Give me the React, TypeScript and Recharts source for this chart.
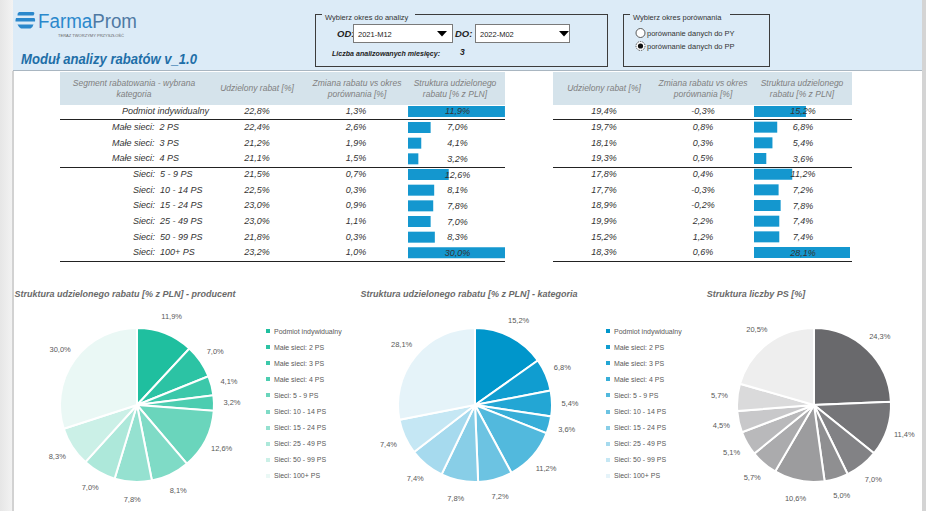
import React from 'react';
import { PieChart, Pie, Cell, Legend, BarChart, Bar, XAxis, YAxis, LabelList } from 'recharts';

// segment labels as shown in the table and in the pie legends
const segments = [
  'Podmiot indywidualny',
  'Małe sieci:  2 PS',
  'Małe sieci:  3 PS',
  'Małe sieci:  4 PS',
  'Sieci:  5 - 9 PS',
  'Sieci:  10 - 14 PS',
  'Sieci:  15 - 24 PS',
  'Sieci:  25 - 49 PS',
  'Sieci:  50 - 99 PS',
  'Sieci:  100+ PS',
];
const legendNames = [
  'Podmiot indywidualny',
  'Małe sieci: 2 PS',
  'Małe sieci: 3 PS',
  'Małe sieci: 4 PS',
  'Sieci: 5 - 9 PS',
  'Sieci: 10 - 14 PS',
  'Sieci: 15 - 24 PS',
  'Sieci: 25 - 49 PS',
  'Sieci: 50 - 99 PS',
  'Sieci: 100+ PS',
];

// producent table
const producerRabat = [22.8, 22.4, 21.2, 21.1, 21.5, 22.5, 23.0, 23.0, 21.8, 23.2];
const producerChange = [1.3, 2.6, 1.9, 1.5, 0.7, 0.3, 0.9, 1.1, 0.3, 1.0];
const producerShare = [11.9, 7.0, 4.1, 3.2, 12.6, 8.1, 7.8, 7.0, 8.3, 30.0];

// kategoria table
const categoryRabat = [19.4, 19.7, 18.1, 19.3, 17.8, 17.7, 18.9, 19.9, 15.2, 18.3];
const categoryChange = [-0.3, 0.8, 0.3, 0.5, 0.4, -0.3, -0.2, 2.2, 1.2, 0.6];
const categoryShare = [15.2, 6.8, 5.4, 3.6, 11.2, 7.2, 7.8, 7.4, 7.4, 28.1];

// liczba PS
const psShare = [24.3, 11.4, 7.0, 5.0, 10.6, 5.7, 5.1, 4.5, 5.7, 20.5];

const TEAL = ['#1fbf9f', '#2cc3a4', '#3cc8aa', '#4ccdb0', '#6ad5bc', '#7fdbc6', '#95e1d0', '#ade8da', '#cbf0e7', '#eaf8f5'];
const BLUE = ['#0096cb', '#109dd0', '#23a6d4', '#37aed8', '#52b9dd', '#6cc3e2', '#88cee7', '#a6daee', '#c5e7f4', '#e5f3f9'];
const GRAY = ['#69696c', '#757578', '#828285', '#8f8f91', '#9c9c9e', '#ababad', '#b9b9bb', '#c8c8ca', '#dadadb', '#eeeeee'];

const FONT = '"Liberation Sans", Arial, sans-serif';
const BAR_BLUE = '#1497cf';
const ROW_TOP = 104.3;
const ROW_H = 15.67;
const RAD = Math.PI / 180;

const pct = (v: number) => v.toFixed(1).replace('.', ',') + '%';

function Header() {
  const bg = '#dcebf7';
  return (
    <svg width={926} height={72} style={{ position: 'absolute', left: 0, top: 0 }}>
      <rect x={13} y={0} width={909} height={71} fill={bg} />
      <line x1={13} y1={70.5} x2={922} y2={70.5} stroke="#a9b6c1" />
      {/* logo */}
      <g fill="#2b88cc">
        <path d="M19 12 H33 Q35 12 34 14.5 L33.5 15.5 H17.5 Q17 13 19 12 Z" />
        <path d="M16 18 H34.5 Q35.5 19.5 35 21.5 H15.5 Q15.3 19.5 16 18 Z" />
        <path d="M17.5 24.5 H33.5 Q33 27 30.5 28.5 H21 Q18.5 27 17.5 24.5 Z" />
      </g>
      <text x={38} y={28} fontSize={20} fontFamily={FONT} textLength={99} lengthAdjust="spacingAndGlyphs">
        <tspan fill="#2b88cc">Farma</tspan>
        <tspan fill="#4f79a3">Prom</tspan>
      </text>
      <text x={58} y={36.5} fontSize={3.8} fill="#666" fontFamily={FONT} textLength={66} lengthAdjust="spacingAndGlyphs">
        TERAZ TWORZYMY PRZYSZŁOŚĆ
      </text>
      <text x={21} y={64} fontSize={15} fontWeight="bold" fontStyle="italic" fill="#1f6fa8" fontFamily={FONT} textLength={176} lengthAdjust="spacingAndGlyphs">
        Moduł analizy rabatów v_1.0
      </text>

      {/* period box */}
      <rect x={315.5} y={14.5} width={292} height={52} fill="none" stroke="#3c3c3c" />
      <rect x={322} y={11} width={93} height={8} fill={bg} />
      <text x={325} y={19.5} fontSize={7.5} fill="#333" fontFamily={FONT}>Wybierz okres do analizy</text>
      <text x={337} y={37} fontSize={9.5} fontWeight="bold" fontStyle="italic" fill="#222" fontFamily={FONT}>OD:</text>
      <rect x={353.5} y={24.5} width={99} height={18} fill="#fff" stroke="#7a7a7a" />
      <text x={358} y={36.5} fontSize={7.5} fill="#222" fontFamily={FONT}>2021-M12</text>
      <polygon points="437,31 447,31 442,36.5" fill="#000" />
      <text x={455} y={37} fontSize={9.5} fontWeight="bold" fontStyle="italic" fill="#222" fontFamily={FONT}>DO:</text>
      <rect x={475.5} y={24.5} width={94} height={18} fill="#fff" stroke="#7a7a7a" />
      <text x={480} y={36.5} fontSize={7.5} fill="#222" fontFamily={FONT}>2022-M02</text>
      <polygon points="559,31 569,31 564,36.5" fill="#000" />
      <text x={332} y={56} fontSize={8} fontWeight="bold" fontStyle="italic" fill="#222" fontFamily={FONT} textLength={108} lengthAdjust="spacingAndGlyphs">
        Liczba analizowanych miesięcy:
      </text>
      <text x={460} y={55} fontSize={8.5} fontWeight="bold" fontStyle="italic" fill="#222" fontFamily={FONT}>3</text>

      {/* comparison box */}
      <rect x={623.5} y={14.5} width={146} height={52} fill="none" stroke="#3c3c3c" />
      <rect x={630} y={11} width={100} height={8} fill={bg} />
      <text x={633} y={19.5} fontSize={7.5} fill="#333" fontFamily={FONT}>Wybierz okres porównania</text>
      <circle cx={640.5} cy={33} r={4.5} fill="#fff" stroke="#333" strokeWidth={0.8} />
      <text x={647} y={35.5} fontSize={7.5} fill="#333" fontFamily={FONT}>porównanie danych do PY</text>
      <circle cx={640.5} cy={46} r={4.5} fill="#fff" stroke="#333" strokeWidth={0.8} strokeDasharray="1.5 1" />
      <circle cx={640.5} cy={46} r={2.6} fill="#111" />
      <text x={647} y={48.5} fontSize={7.5} fill="#333" fontFamily={FONT}>porównanie danych do PP</text>
    </svg>
  );
}

const cell = (text: string, x: number, i: number, align: 'left' | 'center' = 'center') => (
  <div
    key={`${x}-${i}`}
    style={{
      position: 'absolute',
      left: align === 'center' ? x - 40 : x,
      width: align === 'center' ? 80 : 'auto',
      top: ROW_TOP + i * ROW_H,
      height: ROW_H,
      lineHeight: `${ROW_H}px`,
      textAlign: align,
      whiteSpace: 'pre',
      fontSize: 9,
      fontStyle: 'italic',
      color: '#333',
    }}
  >
    {text}
  </div>
);

const headCell = (lines: string[], x: number) => (
  <div
    key={`h-${x}`}
    style={{
      position: 'absolute',
      left: x - 80,
      width: 160,
      top: 72,
      height: 33,
      display: 'flex',
      flexDirection: 'column',
      justifyContent: 'center',
      textAlign: 'center',
      fontSize: 8.5,
      lineHeight: '11px',
      fontStyle: 'italic',
      color: '#808080',
      whiteSpace: 'nowrap',
    }}
  >
    {lines.map((l) => (
      <div key={l}>{l}</div>
    ))}
  </div>
);

const hLine = (x1: number, x2: number, y: number, k: string) => (
  <div key={k} style={{ position: 'absolute', left: x1, top: y, width: x2 - x1, height: 1, background: '#222' }} />
);

function ShareBars({ values, names, top, left, width }: { values: number[]; names: string[]; top: number; left: number; width: number }) {
  const data = values.map((v, i) => ({ name: names[i], value: v }));
  return (
    <div style={{ position: 'absolute', left, top }}>
      <BarChart width={width} height={ROW_H * values.length} data={data} layout="vertical" margin={{ top: 0, right: 0, bottom: 0, left: 0 }}>
        <XAxis type="number" hide domain={[0, 'dataMax']} />
        <YAxis type="category" dataKey="name" hide />
        <Bar dataKey="value" fill={BAR_BLUE} barSize={11} isAnimationActive={false}>
          <LabelList
            dataKey="value"
            content={(p: any) => (
              <text
                x={width / 2 + 1}
                y={Number(p.y) + Number(p.height) / 2}
                textAnchor="middle"
                dominantBaseline="central"
                fontSize={9}
                fontStyle="italic"
                fill="#333"
                fontFamily={FONT}
              >
                {pct(Number(p.value))}
              </text>
            )}
          />
        </Bar>
      </BarChart>
    </div>
  );
}

function Tables() {
  const structHead = ['Struktura udzielonego', 'rabatu [% z PLN]'];
  const changeHead = ['Zmiana rabatu vs okres', 'porównania [%]'];
  return (
    <>
      <div style={{ position: 'absolute', left: 60, top: 72, width: 445, height: 33, background: '#d5e3eb' }} />
      <div style={{ position: 'absolute', left: 553, top: 72, width: 299, height: 33, background: '#d5e3eb' }} />
      {headCell(['Segment rabatowania - wybrana', 'kategoria'], 134)}
      {headCell(['Udzielony rabat [%]'], 257)}
      {headCell(changeHead, 357)}
      {headCell(structHead, 455)}
      {headCell(['Udzielony rabat [%]'], 604)}
      {headCell(changeHead, 703)}
      {headCell(structHead, 802)}

      {segments.map((s, i) => cell(s, i === 0 ? 122 : i < 4 ? 112 : 133, i, 'left'))}
      {producerRabat.map((v, i) => cell(pct(v), 257, i))}
      {producerChange.map((v, i) => cell(pct(v), 356, i))}
      {categoryRabat.map((v, i) => cell(pct(v), 604, i))}
      {categoryChange.map((v, i) => cell(pct(v), 703, i))}

      <ShareBars values={producerShare.slice(0, 1)} names={segments.slice(0, 1)} top={ROW_TOP} left={408} width={97} />
      <ShareBars values={producerShare.slice(1)} names={segments.slice(1)} top={ROW_TOP + ROW_H} left={408} width={97} />
      <ShareBars values={categoryShare} names={segments} top={ROW_TOP} left={754} width={96} />

      {hLine(60, 505, 119, 'l1')}
      {hLine(60, 505, 166.5, 'l2')}
      {hLine(60, 505, 260.5, 'l3')}
      {hLine(553, 852, 119, 'r1')}
      {hLine(553, 852, 166.5, 'r2')}
      {hLine(553, 852, 260.5, 'r3')}
    </>
  );
}

const renderPieLabel = (p: any) => {
  const r = p.outerRadius + 18;
  const x = p.cx + r * Math.cos(-p.midAngle * RAD);
  const y = p.cy + r * Math.sin(-p.midAngle * RAD);
  return (
    <text x={x} y={y} textAnchor="middle" dominantBaseline="central" fontSize={7.5} fill="#595959" fontFamily={FONT}>
      {pct(p.value)}
    </text>
  );
};

function PieBlock({ title, titleX, values, colors, left, width, cx, legendX }: {
  title: string; titleX: number; values: number[]; colors: string[]; left: number; width: number; cx: number; legendX?: number;
}) {
  const data = values.map((v, i) => ({ name: legendNames[i], value: v }));
  return (
    <>
      <div
        style={{
          position: 'absolute', left: titleX - 150, width: 300, top: 289, textAlign: 'center',
          fontSize: 9, fontWeight: 'bold', fontStyle: 'italic', color: '#6a6a6a', whiteSpace: 'nowrap',
        }}
      >
        {title}
      </div>
      <div style={{ position: 'absolute', left, top: 305 }}>
        <PieChart width={width} height={200} margin={{ top: 0, right: 0, bottom: 0, left: 0 }}>
          <Pie
            data={data}
            dataKey="value"
            nameKey="name"
            cx={cx}
            cy={100}
            outerRadius={77}
            startAngle={90}
            endAngle={-270}
            stroke="#fff"
            strokeWidth={2}
            label={renderPieLabel}
            labelLine={false}
            isAnimationActive={false}
          >
            {data.map((d, i) => (
              <Cell key={d.name} fill={colors[i]} />
            ))}
          </Pie>
          {legendX !== undefined && (
            <Legend
              layout="vertical"
              align="right"
              verticalAlign="top"
              wrapperStyle={{ left: legendX - left, top: 18, width: 95 }}
              content={() => (
                <div style={{ fontSize: 7, color: '#595959', fontFamily: FONT }}>
                  {legendNames.map((n, i) => (
                    <div key={n} style={{ height: 16.1, display: 'flex', alignItems: 'center', whiteSpace: 'nowrap' }}>
                      <span style={{ width: 4, height: 4, background: colors[i], marginRight: 4, display: 'inline-block' }} />
                      {n}
                    </div>
                  ))}
                </div>
              )}
            />
          )}
        </PieChart>
      </div>
    </>
  );
}

export default function App() {
  return (
    <div style={{ position: 'absolute', left: 0, top: 0, width: 926, height: 511, background: '#fff', overflow: 'hidden', fontFamily: FONT }}>
      <div style={{ position: 'absolute', left: 0, top: 0, width: 13, height: 511, background: 'linear-gradient(to right, #e6e6e6, #f3f3f3)' }} />
      <div style={{ position: 'absolute', left: 12, top: 71, width: 2, height: 440, background: '#d2d2d2' }} />
      <div style={{ position: 'absolute', left: 922, top: 0, width: 4, height: 511, background: '#d4d4d4' }} />
      <Header />
      <Tables />
      <PieBlock
        title="Struktura udzielonego rabatu [% z PLN] - producent"
        titleX={125}
        values={producerShare}
        colors={TEAL}
        left={13}
        width={340}
        cx={124}
        legendX={266}
      />
      <PieBlock
        title="Struktura udzielonego rabatu [% z PLN] - kategoria"
        titleX={469}
        values={categoryShare}
        colors={BLUE}
        left={353}
        width={330}
        cx={122}
        legendX={606}
      />
      <PieBlock
        title="Struktura liczby PS [%]"
        titleX={756}
        values={psShare}
        colors={GRAY}
        left={683}
        width={239}
        cx={131}
      />
    </div>
  );
}
